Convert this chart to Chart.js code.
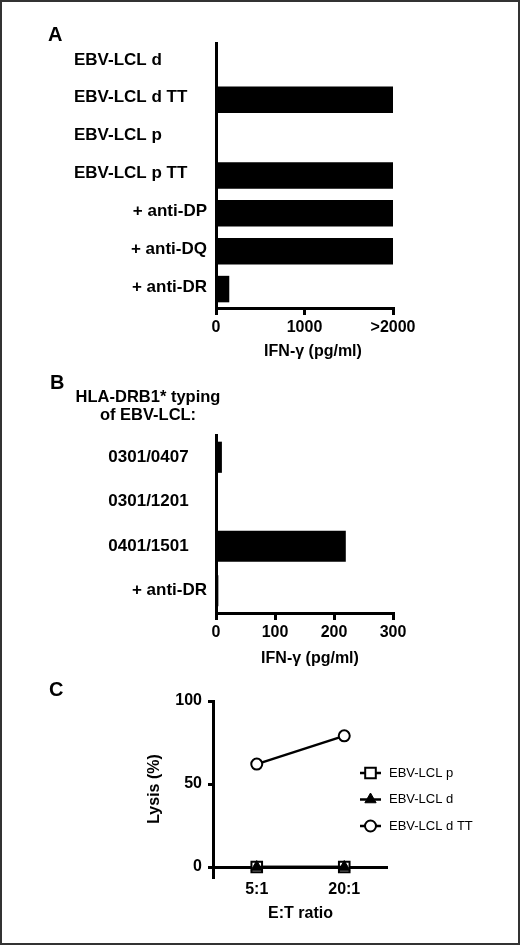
<!DOCTYPE html>
<html>
<head>
<meta charset="utf-8">
<title>IFN-gamma and lysis</title>
<script src="https://cdn.jsdelivr.net/npm/chart.js@4.4.0/dist/chart.umd.js"></script>
<style>
    html, body { margin: 0; padding: 0; background: #fff; }
    body { position: relative; width: 520px; height: 945px; overflow: hidden; }
    canvas { position: absolute; left: 0; }
    #frame { position: absolute; left: 0; top: 0; width: 520px; height: 945px; box-sizing: border-box; border: 2px solid #333; pointer-events: none; }
</style>
</head>
<body>
<canvas id="chartA" width="520" height="370" style="top:0"></canvas>
<canvas id="chartB" width="520" height="304" style="top:371px"></canvas>
<canvas id="chartC" width="520" height="270" style="top:675px"></canvas>
<div id="frame"></div>
<script>
// Panel A - IFN-gamma per stimulator
const A_LABELS = ['EBV-LCL d', 'EBV-LCL d TT', 'EBV-LCL p', 'EBV-LCL p TT', '+ anti-DP', '+ anti-DQ', '+ anti-DR'];
const A_VALUES = [10, 2000, 0, 2000, 2000, 2000, 150];
const A_X_TICKS = [0, 1000, 2000];
const A_X_TICK_LABELS = ['0', '1000', '>2000'];

// Panel B - HLA-DRB1 typing
const B_LABELS = ['0301/0407', '0301/1201', '0401/1501', '+ anti-DR'];
const B_VALUES = [10, 0, 220, 4];
const B_X_TICKS = [0, 100, 200, 300];

// Panel C - lysis
const C_RATIOS = ['5:1', '20:1'];
const C_SERIES = ['EBV-LCL p', 'EBV-LCL d', 'EBV-LCL d TT'];
const C_LCL_P = [0, 0];
const C_LCL_D = [0, 0];
const C_LCL_D_TT = [62, 79];
const C_Y_TICKS = [0, 50, 100];

const FONT = "'Liberation Sans', Arial, Helvetica, sans-serif";
const AXIS_W = 3;
const IFN_TITLE = 'IFN-\u03b3 (pg/ml)';

Chart.defaults.font.family = FONT;
Chart.defaults.color = '#000';

function setTicks(values) {
    return function(scale) {
        scale.ticks = values.map(function(v) { return { value: v }; });
    };
}

// free text: panel letters, headers, row labels, legend
const annotate = {
    id: 'annotate',
    afterDraw(chart, args, opts) {
        const ctx = chart.ctx;
        ctx.save();
        ctx.fillStyle = '#000';
        ctx.textBaseline = 'middle';

        (opts.texts || []).forEach(function(t) {
            ctx.font = t.font;
            ctx.textAlign = t.align || 'left';
            ctx.fillText(t.text, t.x, t.y);
        });

        if (opts.rows) {
            const yScale = chart.scales.y;
            ctx.font = opts.rows.font;
            chart.data.labels.forEach(function(lab, i) {
                const py = yScale.getPixelForTick(i) + opts.rows.dy;
                if (lab.charAt(0) === '+') {
                    ctx.textAlign = 'right';
                    ctx.fillText(lab, opts.rows.rightX, py);
                } else {
                    ctx.textAlign = opts.rows.align;
                    ctx.fillText(lab, opts.rows.x, py);
                }
            });
        }

        if (opts.legend) {
            const lg = opts.legend;
            chart.data.datasets.forEach(function(ds, i) {
                const py = lg.y + i * lg.rowH;
                ctx.strokeStyle = '#000';
                ctx.lineWidth = 2.5;
                ctx.beginPath();
                ctx.moveTo(lg.x, py);
                ctx.lineTo(lg.x + lg.lineW, py);
                ctx.stroke();
                ctx.fillStyle = ds.pointBackgroundColor;
                ctx.strokeStyle = '#000';
                ctx.lineWidth = ds.pointBorderWidth;
                Chart.helpers.drawPoint(ctx, {
                    pointStyle: ds.pointStyle,
                    radius: ds.pointRadius,
                    rotation: 0,
                    borderWidth: ds.pointBorderWidth
                }, lg.x + lg.lineW / 2, py);
                ctx.fillStyle = '#000';
                ctx.font = lg.font;
                ctx.textAlign = 'left';
                ctx.fillText(ds.label, lg.x + lg.lineW + 8, py);
            });
        }
        ctx.restore();
    }
};

function barChart(canvasId, labels, values, xTicks, xTickLabels, opt) {
    return new Chart(document.getElementById(canvasId), {
        type: 'bar',
        data: {
            labels: labels,
            datasets: [{
                data: values,
                backgroundColor: '#000',
                borderWidth: 0,
                categoryPercentage: 1,
                barPercentage: 0.7
            }]
        },
        options: {
            indexAxis: 'y',
            responsive: false,
            animation: false,
            layout: { padding: { top: opt.top, left: 206, right: 127, bottom: 0 } },
            plugins: {
                legend: { display: false },
                tooltip: { enabled: false },
                annotate: {
                    texts: opt.texts,
                    rows: opt.rows
                }
            },
            scales: {
                x: {
                    min: 0,
                    max: xTicks[xTicks.length - 1],
                    afterBuildTicks: setTicks(xTicks),
                    afterFit: function(s) { s.height = 62; },
                    grid: { drawOnChartArea: false, drawTicks: true, tickLength: 7, color: '#000', lineWidth: AXIS_W },
                    border: { display: true, color: '#000', width: AXIS_W },
                    ticks: {
                        padding: 3,
                        maxRotation: 0,
                        font: { size: 16, weight: 'bold' },
                        callback: function(v, i) { return xTickLabels[i]; }
                    }
                },
                y: {
                    afterFit: function(s) { s.width = 10; },
                    grid: { display: false },
                    border: { display: true, color: '#000', width: AXIS_W },
                    ticks: { display: false }
                }
            }
        },
        plugins: [annotate]
    });
}

const BOLD = 'bold 17px ' + FONT;
const TITLE = 'bold 16px ' + FONT;

barChart('chartA', A_LABELS, A_VALUES, A_X_TICKS, A_X_TICK_LABELS, {
    top: 43,
    texts: [
        { text: 'A', x: 48, y: 35, font: 'bold 20px ' + FONT },
        { text: IFN_TITLE, x: 313, y: 352, font: TITLE, align: 'center' }
    ],
    rows: { font: BOLD, x: 74, align: 'left', rightX: 207, dy: -2 }
});

barChart('chartB', B_LABELS, B_VALUES, B_X_TICKS, B_X_TICKS.map(String), {
    top: 64,
    texts: [
        { text: 'B', x: 50, y: 12, font: 'bold 20px ' + FONT },
        { text: 'HLA-DRB1* typing', x: 148, y: 26, font: 'bold 16.5px ' + FONT, align: 'center' },
        { text: 'of EBV-LCL:', x: 148, y: 44, font: 'bold 16.5px ' + FONT, align: 'center' },
        { text: IFN_TITLE, x: 310, y: 288, font: TITLE, align: 'center' }
    ],
    rows: { font: BOLD, x: 148.5, align: 'center', rightX: 207, dy: 0 }
});

// Panel C
new Chart(document.getElementById('chartC'), {
    type: 'line',
    data: {
        labels: C_RATIOS,
        datasets: [{
            label: C_SERIES[0],
            data: C_LCL_P,
            order: 2,
            borderColor: '#000',
            borderWidth: 2.5,
            pointStyle: 'rect',
            pointRadius: 7.5,
            pointBorderWidth: 2,
            pointBackgroundColor: '#fff',
            pointBorderColor: '#000'
        }, {
            label: C_SERIES[1],
            data: C_LCL_D,
            order: 1,
            borderColor: '#000',
            borderWidth: 2.5,
            pointStyle: 'triangle',
            pointRadius: 6.5,
            pointBorderWidth: 1,
            pointBackgroundColor: '#000',
            pointBorderColor: '#000'
        }, {
            label: C_SERIES[2],
            data: C_LCL_D_TT,
            order: 0,
            borderColor: '#000',
            borderWidth: 2.5,
            pointStyle: 'circle',
            pointRadius: 5.5,
            pointBorderWidth: 2,
            pointBackgroundColor: '#fff',
            pointBorderColor: '#000'
        }]
    },
    options: {
        responsive: false,
        animation: false,
        layout: { padding: { top: 26, left: 141, right: 132, bottom: 0 } },
        plugins: {
            legend: { display: false },
            tooltip: { enabled: false },
            annotate: {
                texts: [{ text: 'C', x: 49, y: 15, font: 'bold 20px ' + FONT }],
                legend: { x: 360, y: 98, rowH: 26.5, lineW: 21, font: '13px ' + FONT }
            }
        },
        scales: {
            x: {
                offset: true,
                afterFit: function(s) { s.height = 68; },
                grid: { display: false, drawTicks: false },
                border: { display: false },
                ticks: { padding: 3, font: { size: 16, weight: 'bold' } },
                title: {
                    display: true,
                    text: 'E:T ratio',
                    font: { size: 16, weight: 'bold' },
                    padding: { top: 0, bottom: 22 }
                }
            },
            y: {
                min: -6,
                max: 100,
                afterBuildTicks: setTicks(C_Y_TICKS),
                afterFit: function(s) { s.width = 72; },
                grid: {
                    drawTicks: true,
                    tickLength: 5,
                    tickColor: '#000',
                    lineWidth: AXIS_W,
                    color: function(c) { return c.tick && c.tick.value === 0 ? '#000' : 'rgba(0,0,0,0)'; }
                },
                border: { display: true, color: '#000', width: AXIS_W },
                ticks: { padding: 6, font: { size: 16, weight: 'bold' } },
                title: {
                    display: true,
                    text: 'Lysis (%)',
                    font: { size: 16, weight: 'bold' },
                    padding: { top: 4, bottom: 0 }
                }
            }
        }
    },
    plugins: [annotate]
});
</script>
</body>
</html>
